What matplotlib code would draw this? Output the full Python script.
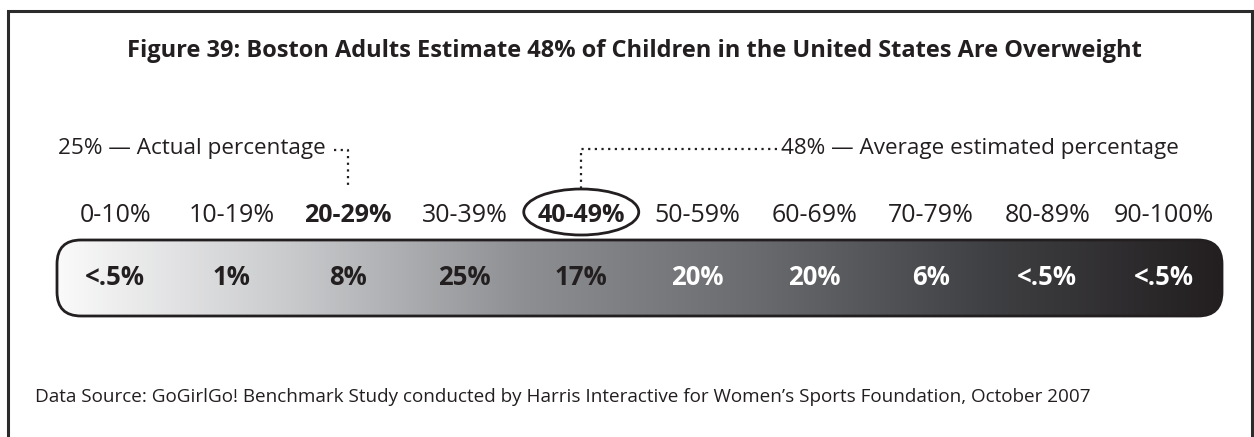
import numpy as np
import matplotlib.pyplot as plt
from matplotlib.patches import FancyBboxPatch, Ellipse
from matplotlib.colors import LinearSegmentedColormap

# data
ranges = ['0-10%', '10-19%', '20-29%', '30-39%', '40-49%',
          '50-59%', '60-69%', '70-79%', '80-89%', '90-100%']
shares = ['<.5%', '1%', '8%', '25%', '17%', '20%', '20%', '6%', '<.5%', '<.5%']
actual_idx = 2      # 25% actual -> 20-29%
estimate_idx = 4    # 48% average estimate -> 40-49%
actual_text = '25% \u2014 Actual percentage'
estimate_text = '48% \u2014 Average estimated percentage'
title = 'Figure 39: Boston Adults Estimate 48% of Children in the United States Are Overweight'
source = ('Data Source: GoGirlGo! Benchmark Study conducted by Harris Interactive '
          'for Women\u2019s Sports Foundation, October 2007')

plt.rcParams['font.family'] = ['Open Sans', 'DejaVu Sans']
ink = '#231f20'

W, H = 1254, 437
fig = plt.figure(figsize=(W / 100, H / 100), dpi=100)
ax = fig.add_axes([0, 0, 1, 1])

# x in category units (bar spans 0..10), y in pixels from top
n = len(ranges)
bar_l, bar_r = 57, 1222
ppu = (bar_r - bar_l) / n
px = lambda p: (p - bar_l) / ppu   # pixel column -> category units
ax.set_xlim(px(0), px(W))
ax.set_ylim(H, 0)
ax.axis('off')

# frame (bottom edge runs off the picture)
ax.plot([px(8), px(8), px(1252), px(1252)], [H + 5, 11, 11, H + 5],
        color='#2b2b2b', lw=2.2, solid_joinstyle='miter')

ax.text(px(634), 57, title, ha='center', va='baseline',
        fontsize=17, fontweight='bold', color=ink)

# gradient bar
bar_top, bar_bot = 240, 316
cmap = LinearSegmentedColormap.from_list(
    'g', ['#fafafa', '#c9cacc', '#8e8f92', '#6a6b6e', '#3f4043', '#231f20'])
grad = np.linspace(0, 1, 512)[None, :]
im = ax.imshow(grad, cmap=cmap, aspect='auto', extent=(0, n, bar_bot, bar_top),
               interpolation='bicubic', zorder=1)
box = FancyBboxPatch((0, bar_top), n, bar_bot - bar_top,
                     boxstyle='round,pad=0,rounding_size=%f' % (24 / ppu),
                     mutation_aspect=ppu, fc='none', ec=ink, lw=2, zorder=3)
ax.add_patch(box)
im.set_clip_path(box)

xs = np.arange(n) + 0.5
for i, (x, r, s) in enumerate(zip(xs, ranges, shares)):
    bold = i in (actual_idx, estimate_idx)
    ax.text(x, 222, r, ha='center', va='baseline', fontsize=18,
            fontweight='bold' if bold else 'normal', color=ink)
    ax.text(x, 285, s, ha='center', va='baseline', fontsize=18.5,
            fontweight='bold', color=ink if i < 5 else 'white', zorder=4)

# circle around the estimate range
ax.add_patch(Ellipse((xs[estimate_idx], 212), 115 / ppu, 46, fc='none', ec=ink, lw=2))

# annotations with dotted leaders
dot = dict(color=ink, lw=1.6, ls=(0, (1, 2)))
ax.text(px(58), 154, actual_text, ha='left', va='baseline', fontsize=16.2, color=ink)
ax.plot([px(334), xs[actual_idx], xs[actual_idx]], [150, 150, 187], **dot)
ax.text(px(781), 154, estimate_text, ha='left', va='baseline', fontsize=16.2, color=ink)
ax.plot([px(777), xs[estimate_idx], xs[estimate_idx]], [149, 149, 189], **dot)

ax.text(px(35), 402, source, ha='left', va='baseline', fontsize=13.6, color=ink)

fig.savefig('out.png', dpi=100)
